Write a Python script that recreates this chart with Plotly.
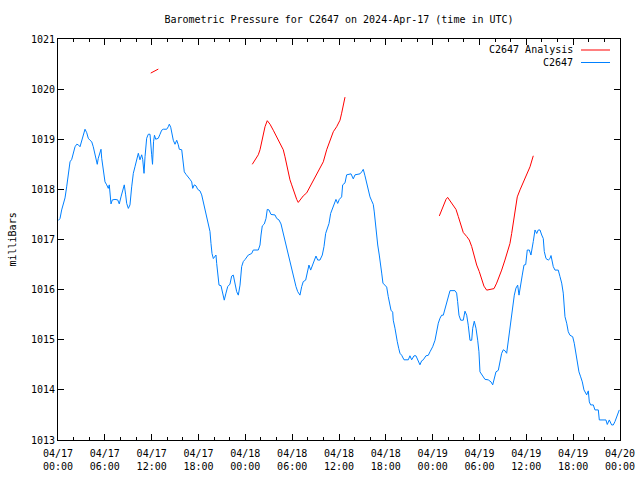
import pandas as pd
import plotly.graph_objects as go

# Hours since 2024-04-17 00:00 UTC and pressure (mb)
obs_hours = [0.05, 0.26, 0.47, 0.68, 0.90, 1.11, 1.32, 1.54, 1.76, 1.96, 2.18, 2.40, 2.60, 2.82, 3.04, 3.24, 3.46, 3.68, 3.88, 4.10,
             4.32, 4.52, 4.74, 4.96, 5.03, 5.16, 5.38, 5.51, 5.60, 5.80, 6.02, 6.24, 6.44, 6.57, 6.66, 6.79, 6.96, 7.30, 7.65, 7.85,
             8.07, 8.29, 8.49, 8.67, 8.80, 9.01, 9.22, 9.44, 9.65, 9.86, 10.08, 10.29, 10.50, 10.72, 10.85, 11.02, 11.15, 11.36, 11.57, 11.79,
             12.00, 12.11, 12.24, 12.36, 12.52, 12.85, 13.07, 13.28, 13.49, 13.93, 14.13, 14.26, 14.44, 14.57, 14.77, 14.99, 15.21, 15.41, 15.54, 15.85,
             16.05, 16.18, 16.40, 16.69, 16.91, 17.13, 17.26, 17.46, 17.68, 17.90, 18.19, 18.41, 18.61, 18.83, 19.05, 19.25, 19.47, 19.60, 19.73, 19.90,
             20.11, 20.24, 20.33, 20.46, 20.63, 20.88, 21.05, 21.18, 21.30, 21.52, 21.74, 22.03, 22.25, 22.46, 22.68, 22.89, 23.10, 23.32, 23.53, 23.74,
             23.96, 24.17, 24.38, 24.81, 25.02, 25.66, 25.88, 26.01, 26.17, 26.43, 26.65, 26.81, 27.03, 27.29, 27.80, 28.02, 28.31, 28.57, 28.79, 28.99,
             29.21, 29.43, 29.63, 29.85, 30.07, 30.27, 30.49, 30.71, 31.00, 31.22, 31.42, 31.73, 31.99, 32.15, 32.37, 32.63, 32.83, 33.05, 33.27, 33.56,
             33.86, 34.08, 34.29, 34.50, 34.72, 34.93, 35.14, 35.36, 35.61, 35.83, 36.04, 36.34, 36.47, 36.77, 36.98, 37.54, 37.83, 38.05, 38.69, 38.91,
             39.11, 39.33, 39.55, 39.75, 39.97, 40.19, 40.39, 40.52, 40.65, 40.83, 40.96, 41.16, 41.29, 41.47, 41.63, 41.89, 42.11, 42.31, 42.53, 42.66,
             42.88, 42.95, 43.17, 43.30, 43.47, 43.65, 43.81, 44.03, 44.33, 44.88, 45.09, 45.31, 45.61, 45.86, 46.16, 46.37, 46.59, 46.80, 47.14, 47.44,
             47.66, 48.00, 48.30, 48.51, 48.72, 48.94, 49.15, 49.36, 49.58, 49.80, 50.00, 50.22, 50.86, 51.07, 51.20, 51.37, 51.59, 51.92, 52.14, 52.36,
             52.56, 52.78, 53.00, 53.13, 53.33, 53.55, 53.77, 53.93, 54.06, 54.28, 54.48, 54.70, 55.12, 55.47, 55.69, 55.89, 56.11, 56.41, 56.62, 56.84,
             57.05, 57.26, 57.48, 57.61, 57.78, 58.03, 58.25, 58.46, 58.67, 58.89, 59.06, 59.27, 59.48, 59.70, 59.92, 60.12, 60.38, 60.59, 60.76, 60.89,
             61.11, 61.33, 61.53, 61.75, 61.97, 62.17, 62.30, 62.52, 62.81, 63.03, 63.16, 63.32, 63.45, 63.67, 64.09, 64.31, 64.53, 64.73, 64.82, 64.95,
             65.17, 65.37, 65.59, 65.94, 66.14, 66.32, 66.53, 66.74, 66.96, 67.17, 67.38, 67.60, 67.73, 67.94, 68.07, 68.24, 68.58, 68.79, 69.22, 69.35,
             70.20, 70.37, 70.63, 70.93, 71.14, 71.36, 71.57, 71.78, 71.91]
obs_mb = [1017.38, 1017.42, 1017.59, 1017.69, 1017.83, 1018.05, 1018.29, 1018.55, 1018.60, 1018.73, 1018.85, 1018.90, 1018.89, 1018.85, 1018.98, 1019.12, 1019.20, 1019.13, 1019.02, 1018.98,
          1018.95, 1018.85, 1018.72, 1018.59, 1018.50, 1018.62, 1018.73, 1018.80, 1018.62, 1018.35, 1018.15, 1018.09, 1018.02, 1018.09, 1017.95, 1017.71, 1017.79, 1017.80, 1017.79, 1017.71,
          1017.85, 1017.99, 1018.09, 1017.89, 1017.72, 1017.62, 1017.69, 1018.05, 1018.32, 1018.45, 1018.62, 1018.72, 1018.59, 1018.69, 1018.60, 1018.32, 1018.65, 1019.02, 1019.10, 1019.10,
          1018.69, 1018.50, 1018.95, 1019.08, 1019.00, 1019.02, 1019.10, 1019.18, 1019.20, 1019.20, 1019.25, 1019.30, 1019.24, 1019.12, 1018.98, 1018.90, 1018.98, 1018.89, 1018.80, 1018.79,
          1018.55, 1018.35, 1018.30, 1018.25, 1018.20, 1018.15, 1018.02, 1018.09, 1018.07, 1018.00, 1017.97, 1017.89, 1017.75, 1017.62, 1017.42, 1017.32, 1017.16, 1016.92, 1016.72, 1016.62,
          1016.66, 1016.69, 1016.52, 1016.25, 1016.09, 1016.08, 1015.96, 1015.89, 1015.79, 1015.93, 1016.06, 1016.11, 1016.27, 1016.29, 1016.13, 1015.96, 1015.89, 1016.09, 1016.46, 1016.56,
          1016.60, 1016.66, 1016.69, 1016.72, 1016.79, 1016.79, 1016.89, 1017.09, 1017.27, 1017.31, 1017.42, 1017.60, 1017.59, 1017.50, 1017.49, 1017.42, 1017.39, 1017.31, 1017.16, 1017.02,
          1016.92, 1016.76, 1016.62, 1016.47, 1016.33, 1016.19, 1016.06, 1015.96, 1015.89, 1016.06, 1016.16, 1016.19, 1016.39, 1016.49, 1016.39, 1016.49, 1016.59, 1016.67, 1016.59, 1016.59,
          1016.69, 1016.86, 1017.12, 1017.22, 1017.32, 1017.52, 1017.62, 1017.70, 1017.80, 1017.72, 1017.80, 1017.85, 1018.09, 1018.13, 1018.29, 1018.31, 1018.21, 1018.29, 1018.31, 1018.35,
          1018.40, 1018.27, 1018.10, 1017.97, 1017.85, 1017.77, 1017.70, 1017.55, 1017.32, 1017.10, 1016.89, 1016.69, 1016.49, 1016.33, 1016.13, 1016.08, 1016.05, 1015.86, 1015.70, 1015.59,
          1015.55, 1015.39, 1015.23, 1015.06, 1014.96, 1014.83, 1014.73, 1014.69, 1014.60, 1014.60, 1014.68, 1014.60, 1014.68, 1014.68, 1014.56, 1014.50, 1014.58, 1014.60, 1014.68, 1014.69,
          1014.76, 1014.86, 1014.99, 1015.19, 1015.33, 1015.43, 1015.49, 1015.49, 1015.63, 1015.76, 1015.89, 1015.98, 1015.98, 1015.93, 1015.76, 1015.49, 1015.39, 1015.39, 1015.57, 1015.49,
          1015.29, 1014.99, 1014.99, 1015.23, 1015.37, 1015.23, 1014.99, 1014.76, 1014.36, 1014.30, 1014.24, 1014.21, 1014.20, 1014.16, 1014.10, 1014.26, 1014.36, 1014.39, 1014.56, 1014.73,
          1014.80, 1014.78, 1014.73, 1014.89, 1015.06, 1015.33, 1015.59, 1015.89, 1016.03, 1016.09, 1015.89, 1016.06, 1016.29, 1016.49, 1016.50, 1016.79, 1016.79, 1016.69, 1016.82, 1016.96,
          1017.19, 1017.12, 1017.19, 1017.19, 1017.09, 1017.02, 1016.76, 1016.62, 1016.59, 1016.62, 1016.68, 1016.56, 1016.46, 1016.39, 1016.39, 1016.26, 1016.13, 1015.93, 1015.66, 1015.46,
          1015.33, 1015.16, 1015.09, 1015.06, 1014.93, 1014.76, 1014.60, 1014.36, 1014.26, 1014.16, 1014.00, 1013.93, 1013.90, 1013.98, 1013.76, 1013.70, 1013.70, 1013.60, 1013.60, 1013.40,
          1013.40, 1013.31, 1013.40, 1013.30, 1013.30, 1013.37, 1013.46, 1013.53, 1013.60]

# Analysis segments (None = gap)
ana_hours = [11.88, 12.30, 12.85, None,
             24.89, 25.24, 25.66, 25.88, 26.10, 26.30, 26.52, 26.81, 27.16, 27.58, 28.02, 28.44, 28.86, 29.08, 29.30, 29.50,
             29.72, 29.94, 30.14, 30.36, 30.58, 30.78, 31.00, 31.42, 31.86, 32.28, 32.71, 33.14, 33.56, 33.99, 34.42, 34.85,
             35.27, 35.70, 36.13, 36.34, 36.55, 36.77, None,
             48.85, 49.15, 49.45, 49.71, 49.92, 50.22, 50.64, 50.99, 51.28, 51.59, 51.92, 52.36, 52.69, 53.00, 53.29, 53.64,
             53.97, 54.28, 54.57, 54.92, 55.34, 55.86, 56.20, 56.53, 56.84, 57.26, 57.56, 57.90, 58.12, 58.33, 58.55, 58.84,
             59.19, 59.61, 60.04, 60.47, 60.89]
ana_mb = [1020.32, 1020.36, 1020.40, None,
          1018.50, 1018.59, 1018.69, 1018.79, 1018.95, 1019.12, 1019.25, 1019.37, 1019.30, 1019.18, 1019.05, 1018.92, 1018.79, 1018.65, 1018.49, 1018.32,
          1018.19, 1018.09, 1017.99, 1017.89, 1017.80, 1017.74, 1017.79, 1017.87, 1017.93, 1018.05, 1018.17, 1018.29, 1018.42, 1018.55, 1018.79, 1018.98,
          1019.15, 1019.25, 1019.38, 1019.52, 1019.68, 1019.84, None,
          1017.47, 1017.59, 1017.70, 1017.80, 1017.84, 1017.77, 1017.69, 1017.60, 1017.46, 1017.29, 1017.14, 1017.06, 1016.99, 1016.86, 1016.69, 1016.49,
          1016.36, 1016.23, 1016.07, 1015.99, 1016.00, 1016.02, 1016.13, 1016.26, 1016.39, 1016.59, 1016.76, 1016.92, 1017.12, 1017.36, 1017.62, 1017.85,
          1017.99, 1018.13, 1018.29, 1018.45, 1018.67]

start = pd.Timestamp("2024-04-17 00:00")
def to_time(hours):
    return [None if h is None else start + pd.Timedelta(hours=h) for h in hours]

BLUE = "#0080ff"
RED = "#ff0000"
FONT = "DejaVu Sans Mono"

fig = go.Figure()
fig.add_trace(go.Scatter(x=to_time(ana_hours), y=ana_mb, mode="lines", name="C2647 Analysis",
                         line=dict(color=RED, width=1), connectgaps=False))
fig.add_trace(go.Scatter(x=to_time(obs_hours), y=obs_mb, mode="lines", name="C2647",
                         line=dict(color=BLUE, width=1)))

fig.update_layout(
    width=640, height=480,
    margin=dict(l=58, r=20, t=39, b=40, autoexpand=False),
    paper_bgcolor="white", plot_bgcolor="white",
    showlegend=False,
    font=dict(family=FONT, size=10, color="black"),
    title=dict(text="Barometric Pressure for C2647 on 2024-Apr-17 (time in UTC)",
               x=0.5, xref="paper", xanchor="center", y=1 - 19 / 480, yref="container", yanchor="middle",
               font=dict(family=FONT, size=10, color="black")),
)
fig.update_xaxes(
    type="date",
    range=[start, start + pd.Timedelta(hours=72)],
    dtick=6 * 3600 * 1000, tick0=start,
    tickformat="%m/%d<br>%H:%M",
    ticks="inside", ticklen=6, tickcolor="black",
    minor=dict(dtick=2 * 3600 * 1000, ticks="inside", ticklen=3, tickcolor="black", showgrid=False),
    showline=True, linecolor="black", linewidth=1, mirror="allticks",
    showgrid=False, zeroline=False, automargin=False,
    ticklabelstandoff=4,
    tickfont=dict(family=FONT, size=10, color="black"),
)
fig.update_yaxes(
    range=[1013, 1021], dtick=1, tickformat="d",
    ticks="inside", ticklen=6, tickcolor="black",
    showline=True, linecolor="black", linewidth=1, mirror="allticks",
    showgrid=False, zeroline=False, automargin=False,
    tickfont=dict(family=FONT, size=10, color="black"),
)

# y-axis label
fig.add_annotation(text="milliBars", xref="paper", yref="paper", x=(12 - 58) / 562, y=0.5,
                   textangle=-90, showarrow=False, xanchor="center", yanchor="middle",
                   font=dict(family=FONT, size=10, color="black"))

# gnuplot-style key: text right-aligned, line sample to its right
key_rows = [("C2647 Analysis", RED, 50), ("C2647", BLUE, 62.5)]
for label, color, ypx in key_rows:
    yp = (440 - ypx) / 401
    fig.add_annotation(text=label, xref="paper", yref="paper", x=(575 - 58) / 562, y=yp,
                       xanchor="right", yanchor="middle", showarrow=False,
                       font=dict(family=FONT, size=10, color="black"))
    fig.add_shape(type="line", xref="paper", yref="paper",
                  x0=(581 - 58) / 562, x1=(610 - 58) / 562, y0=yp, y1=yp,
                  line=dict(color=color, width=1))

fig.write_html("out.html", config={"displayModeBar": False},
               post_script="document.body.style.margin='0';")
